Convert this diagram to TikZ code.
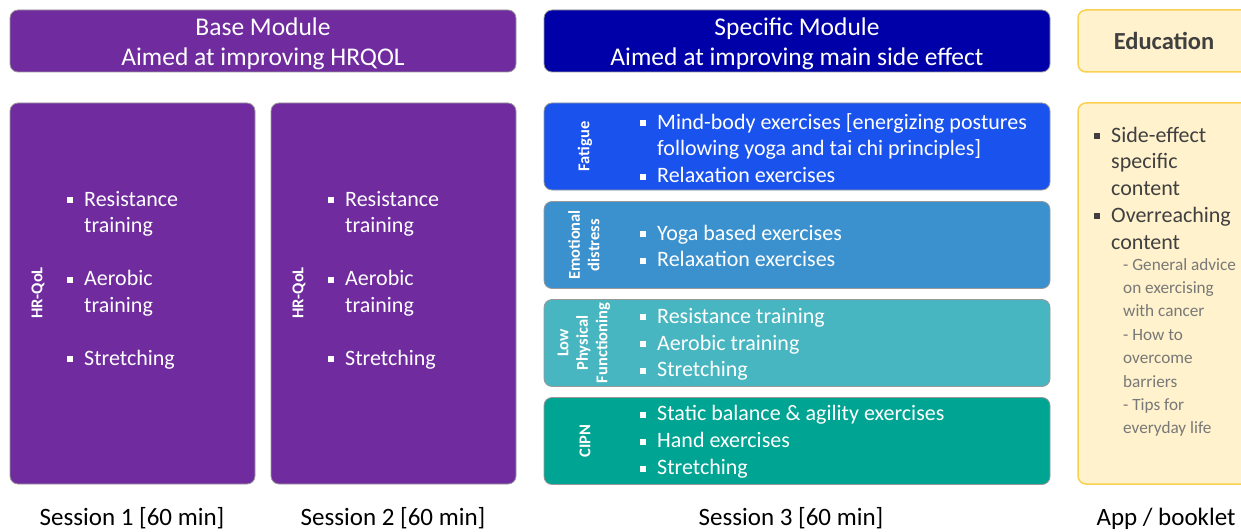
\documentclass[tikz,border=0pt]{standalone}
\usepackage{fontspec}
\setmainfont{Carlito}
\definecolor{basepurple}{RGB}{112,44,158}
\definecolor{specblue}{RGB}{0,0,168}
\definecolor{fatblue}{RGB}{26,82,238}
\definecolor{emoblue}{RGB}{58,145,206}
\definecolor{lpfteal}{RGB}{72,182,192}
\definecolor{cipngreen}{RGB}{0,164,146}
\definecolor{edufill}{RGB}{255,242,204}
\definecolor{edudraw}{RGB}{250,208,80}
\definecolor{edutext}{RGB}{64,64,64}
\definecolor{edusub}{RGB}{120,120,120}
% square bullet and hanging indent
\newcommand\sqb{\makebox[17pt][l]{\rule[3pt]{6pt}{6pt}}}
\newcommand\hang{\hspace*{17pt}}
\begin{document}
\begin{tikzpicture}[x=1pt, y=-1pt,
	box/.style={draw=black!40, line width=0.8pt, rounded corners=8pt, inner sep=0pt},
	hdr/.style={inner sep=0pt, text=white, align=center, font=\fontsize{25.5}{30}\selectfont},
	vlab/.style={rotate=90, text=white, align=center, inner sep=0pt, font=\bfseries\fontsize{16.5}{19.5}\selectfont},
	lst/.style={anchor=west, inner sep=0pt, text=white, align=left, font=\fontsize{22}{26.8}\selectfont},
	sess/.style={inner sep=0pt, font=\fontsize{25}{30}\selectfont}]
	\clip (0,0) rectangle (1241,532);
	% module headers
	\node[box, fill=basepurple, minimum width=506pt, minimum height=62pt] (basehdr) at (263,41) {};
	\node[hdr] (basehdr-txt) at (263,43.5) {Base Module\\Aimed at improving HRQOL};
	\node[box, fill=specblue, minimum width=506pt, minimum height=62pt] (spechdr) at (797,41) {};
	\node[hdr] (spechdr-txt) at (797,43.5) {Specific Module\\Aimed at improving main side effect};
	\node[box, fill=edufill, draw=edudraw, line width=1.5pt, minimum width=172pt, minimum height=62pt] (eduhdr) at (1164,41) {};
	\node[inner sep=0pt, text=edutext, font=\bfseries\fontsize{24.5}{28}\selectfont] (edutitle) at (1164,41) {Education};
	% base module sessions
	\foreach \n/\xc in {s1/132.5, s2/393.5}{
		\node[box, fill=basepurple, minimum width=245pt, minimum height=381pt] (\n) at (\xc,293.5) {};
		\node[vlab] (\n-lab) at (\xc-94.5,293) {HR-QoL};
		\node[lst] (\n-list) at (\xc-65.5,280) {\sqb Resistance\\\hang training\\[26pt]\sqb Aerobic\\\hang training\\[26pt]\sqb Stretching};}
	% specific module, one box per side effect
	\foreach \n/\yc/\c/\lx/\t in {fat/146.5/fatblue/585/Fatigue, emo/245/emoblue/584/{Emotional\\distress}, lpf/343/lpfteal/584/{Low\\Physical\\Functioning}, cipn/441/cipngreen/585/CIPN}{
		\node[box, fill=\c, minimum width=506pt, minimum height=87pt] (\n) at (797,\yc) {};
		\node[vlab] (\n-lab) at (\lx,\yc) {\t};}
	\node[lst] (fat-list) at (640,148) {\sqb Mind-body exercises [energizing postures\\\hang following yoga and tai chi principles]\\\sqb Relaxation exercises};
	\node[lst] (emo-list) at (640,246) {\sqb Yoga based exercises\\\sqb Relaxation exercises};
	\node[lst] (lpf-list) at (640,344.5) {\sqb Resistance training\\\sqb Aerobic training\\\sqb Stretching};
	\node[lst] (cipn-list) at (640,442) {\sqb Static balance \& agility exercises\\\sqb Hand exercises\\\sqb Stretching};
	% education content
	\node[box, fill=edufill, draw=edudraw, line width=1.5pt, minimum width=172pt, minimum height=381pt] (edu) at (1164,293.5) {};
	\node[lst, text=edutext, font=\fontsize{22}{26.75}\selectfont] (edu-list) at (1094,188) {\sqb Side-effect\\\hang specific\\\hang content\\\sqb Overreaching\\\hang content};
	\node[lst, text=edusub, font=\fontsize{17.2}{23.4}\selectfont] (edu-sub) at (1123,347.5) {- General advice\\on exercising\\with cancer\\- How to\\overcome\\barriers\\- Tips for\\everyday life};
	% session labels
	\foreach \n/\xc/\t in {l1/132/Session 1 [60 min], l2/393/Session 2 [60 min], l3/791/Session 3 [60 min], l4/1166/{App / booklet}}
		\node[sess] (\n) at (\xc,518.5) {\t};
\end{tikzpicture}
\end{document}
